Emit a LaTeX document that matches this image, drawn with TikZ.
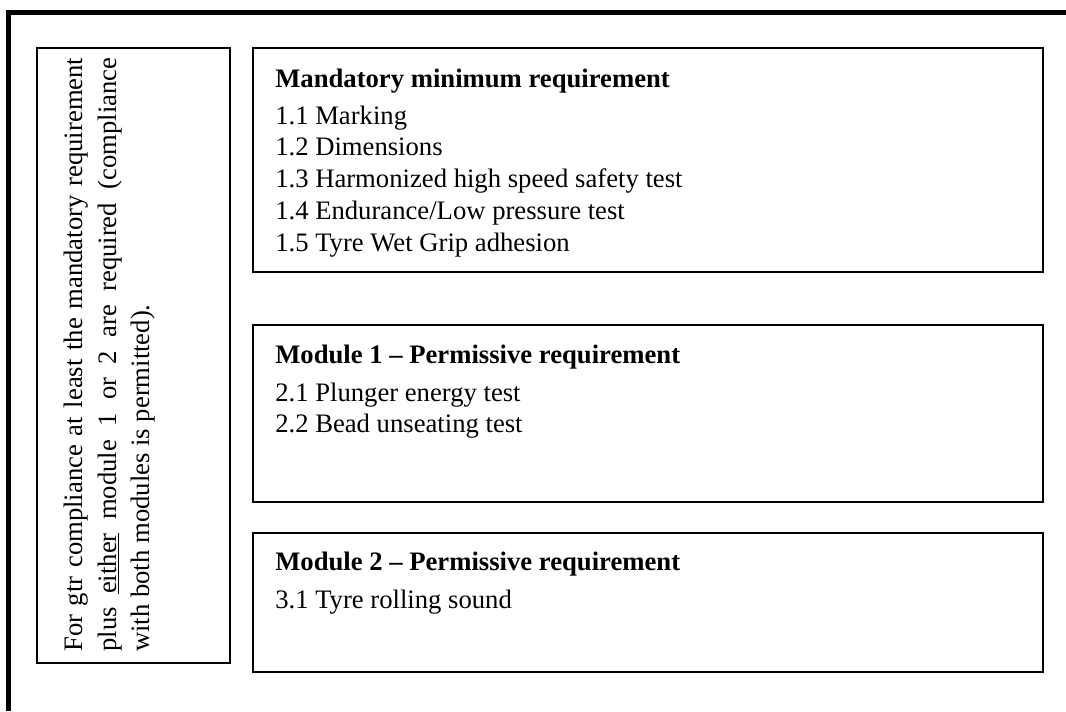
\documentclass[tikz,border=0pt]{standalone}
\usepackage{fontspec}
\setmainfont{Liberation Serif}
\tikzset{>=latex}
\tikzset{
  box/.style={draw, line width=1.1pt},
  head/.style={anchor=base west, inner sep=0pt, font=\fontsize{20}{24}\bfseries},
  item/.style={anchor=base west, inner sep=0pt, font=\fontsize{20}{24}\selectfont}
}

\begin{document}
\begin{tikzpicture}[x=0.75pt, y=-0.75pt]
\useasboundingbox (0,0) rectangle (1066,711);
\coordinate (fbl) at (8.5,711);
\coordinate (ftl) at (8.5,12.5);
\coordinate (ftr) at (1066,12.5);
\draw[line width=3.8pt] (fbl)--(ftl)--(ftr);
% left note
\draw[box] (37,48) rectangle (230,663);
\node[rotate=90, anchor=north west, inner sep=0pt, text width=445.5pt, align=justify,
  font=\fontsize{20}{25.1}\selectfont] (note) at (64,652)
  {For gtr compliance at least the mandatory requirement\linebreak plus \underline{either} module 1 or 2 are required (compliance\linebreak with both modules is permitted).};
% mandatory
\draw[box] (253,48) rectangle (1043,272);
\node[head] (mand) at (275,87) {Mandatory minimum requirement};
\node[item] (m1) at (275,124) {1.1 Marking};
\node[item] (m2) at (275,155.75) {1.2 Dimensions};
\node[item] (m3) at (275,187.5) {1.3 Harmonized high speed safety test};
\node[item] (m4) at (275,219.25) {1.4 Endurance/Low pressure test};
\node[item] (m5) at (275,251) {1.5 Tyre Wet Grip adhesion};
% module 1
\draw[box] (253,325) rectangle (1043,502);
\node[head] (modA) at (275,363) {Module 1 -- Permissive requirement};
\node[item] (a1) at (275,401) {2.1 Plunger energy test};
\node[item] (a2) at (275,432.75) {2.2 Bead unseating test};
% module 2
\draw[box] (253,533) rectangle (1043,672);
\node[head] (modB) at (275,570) {Module 2 -- Permissive requirement};
\node[item] (b1) at (275,608) {3.1 Tyre rolling sound};
\end{tikzpicture}
\end{document}
